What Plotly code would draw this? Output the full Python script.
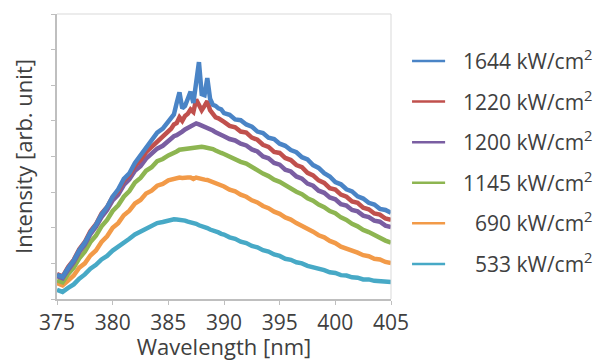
import plotly.graph_objects as go

wavelength = [375, 375.5, 376, 376.5, 377, 377.5, 378, 378.5, 379, 379.5, 380, 380.5, 381, 381.5, 382, 382.5, 383, 383.5, 384, 384.5, 385,
              385.25, 385.5, 385.75, 386, 386.25, 386.5, 386.75, 387, 387.25, 387.5, 387.75, 388, 388.25, 388.5, 388.75, 389, 389.25, 389.5, 389.75, 390,
              390.5, 391, 391.5, 392, 392.5, 393, 393.5, 394, 394.5, 395, 395.5, 396, 396.5, 397, 397.5, 398, 398.5, 399, 399.5, 400,
              400.5, 401, 401.5, 402, 402.5, 403, 403.5, 404, 404.5, 405]

i_1644 = [0.68, 0.62, 0.87, 1.08, 1.37, 1.58, 1.87, 2.08, 2.37, 2.58, 2.87, 3.08, 3.37, 3.53, 3.82, 4.03, 4.27, 4.43, 4.67, 4.78, 4.97,
          5.05, 5.18, 5.5, 5.8, 5.35, 5.42, 5.62, 5.82, 5.5, 6.2, 6.65, 5.75, 5.72, 6.2, 5.62, 5.45, 5.42, 5.35, 5.32, 5.22,
          5.17, 5.04, 5.02, 4.9, 4.84, 4.7, 4.66, 4.53, 4.49, 4.36, 4.3, 4.18, 4.12, 3.98, 3.92, 3.76, 3.68, 3.53, 3.44, 3.28,
          3.22, 3.08, 3.02, 2.88, 2.82, 2.7, 2.65, 2.53, 2.5, 2.42]

i_1220 = [0.7, 0.63, 0.9, 1.1, 1.4, 1.6, 1.9, 2.1, 2.4, 2.58, 2.87, 3.03, 3.32, 3.48, 3.74, 3.9, 4.12, 4.26, 4.44, 4.56, 4.72,
          4.78, 4.9, 4.94, 5.1, 5.0, 5.14, 5.2, 5.32, 5.25, 5.6, 5.45, 5.3, 5.42, 5.55, 5.3, 5.17, 5.1, 5.07, 5.0, 4.97,
          4.86, 4.82, 4.7, 4.67, 4.53, 4.47, 4.33, 4.27, 4.13, 4.1, 3.96, 3.9, 3.76, 3.7, 3.54, 3.47, 3.33, 3.26, 3.11, 3.07,
          2.93, 2.87, 2.74, 2.7, 2.56, 2.52, 2.4, 2.37, 2.26, 2.22]

i_1200 = [0.64, 0.58, 0.82, 1.03, 1.32, 1.53, 1.82, 2.03, 2.3, 2.5, 2.77, 2.93, 3.2, 3.36, 3.6, 3.73, 3.94, 4.06, 4.22, 4.3, 4.44,
          4.5, 4.57, 4.6, 4.67, 4.7, 4.76, 4.8, 4.86, 4.88, 4.93, 4.9, 4.87, 4.84, 4.81, 4.76, 4.73, 4.68, 4.65, 4.6, 4.57,
          4.49, 4.45, 4.36, 4.31, 4.2, 4.14, 4.0, 3.95, 3.82, 3.77, 3.63, 3.58, 3.44, 3.38, 3.24, 3.18, 3.04, 2.98, 2.85, 2.8,
          2.66, 2.62, 2.5, 2.46, 2.34, 2.3, 2.2, 2.17, 2.06, 2.02]

i_1145 = [0.52, 0.47, 0.7, 0.88, 1.14, 1.33, 1.6, 1.78, 2.04, 2.22, 2.47, 2.63, 2.87, 3.03, 3.27, 3.4, 3.6, 3.7, 3.87, 3.93, 4.03,
          4.06, 4.11, 4.14, 4.19, 4.2, 4.23, 4.24, 4.26, 4.26, 4.28, 4.27, 4.27, 4.26, 4.25, 4.22, 4.21, 4.17, 4.15, 4.1, 4.07,
          3.99, 3.94, 3.85, 3.8, 3.7, 3.63, 3.52, 3.45, 3.35, 3.29, 3.19, 3.12, 3.01, 2.94, 2.83, 2.76, 2.65, 2.58, 2.47, 2.41,
          2.29, 2.22, 2.11, 2.04, 1.94, 1.88, 1.79, 1.73, 1.64, 1.58]

i_690 = [0.45, 0.38, 0.52, 0.66, 0.88, 1.0, 1.22, 1.36, 1.6, 1.76, 2.0, 2.13, 2.35, 2.48, 2.68, 2.78, 2.96, 3.04, 3.18, 3.23, 3.33,
         3.35, 3.38, 3.39, 3.41, 3.4, 3.42, 3.41, 3.41, 3.37, 3.41, 3.38, 3.38, 3.35, 3.34, 3.31, 3.29, 3.25, 3.23, 3.19, 3.16,
         3.07, 3.02, 2.93, 2.87, 2.77, 2.71, 2.61, 2.55, 2.45, 2.39, 2.29, 2.23, 2.13, 2.06, 1.96, 1.89, 1.79, 1.73, 1.63, 1.57,
         1.47, 1.42, 1.34, 1.3, 1.23, 1.2, 1.13, 1.11, 1.04, 1.01]

i_533 = [0.26, 0.2, 0.31, 0.41, 0.57, 0.69, 0.85, 0.96, 1.11, 1.21, 1.36, 1.46, 1.59, 1.69, 1.81, 1.89, 1.99, 2.04, 2.13, 2.16, 2.21,
         2.22, 2.24, 2.23, 2.23, 2.21, 2.2, 2.17, 2.16, 2.12, 2.11, 2.07, 2.05, 2.01, 1.99, 1.95, 1.93, 1.89, 1.87, 1.83, 1.81,
         1.73, 1.69, 1.61, 1.57, 1.49, 1.45, 1.37, 1.33, 1.25, 1.21, 1.13, 1.1, 1.03, 1.0, 0.93, 0.9, 0.84, 0.81, 0.75, 0.73,
         0.67, 0.66, 0.61, 0.6, 0.55, 0.55, 0.51, 0.51, 0.48, 0.48]

series_names = ["1644 kW/cm<sup>2</sup>", "1220 kW/cm<sup>2</sup>", "1200 kW/cm<sup>2</sup>",
                "1145 kW/cm<sup>2</sup>", "690 kW/cm<sup>2</sup>", "533 kW/cm<sup>2</sup>"]
series_values = [i_1644, i_1220, i_1200, i_1145, i_690, i_533]
series_colors = ["#4a84c6", "#c0504d", "#7a5ea2", "#8db551", "#f29a48", "#47a9c6"]

x_ticks = [375, 380, 385, 390, 395, 400, 405]
y_ticks = [0, 1, 2, 3, 4, 5, 6, 7, 8]

TEXT = "#404040"
AXIS = "#bfbfbf"
FS = 22

fig = go.Figure()
# draw lowest series first so the highest is on top
for name, vals, col in reversed(list(zip(series_names, series_values, series_colors))):
    fig.add_trace(go.Scatter(x=wavelength, y=vals, mode="lines", name=name,
                             showlegend=False, line=dict(color=col, width=4.5)))

# legend drawn at the right of the plot (paper coordinates)
for k, (name, col) in enumerate(zip(series_names, series_colors)):
    yk = 0.835 - k * 0.1424
    fig.add_shape(type="line", xref="paper", yref="paper", x0=1.063, x1=1.162, y0=yk, y1=yk,
                  line=dict(color=col, width=2.5))
    fig.add_annotation(xref="paper", yref="paper", x=1.612, y=yk + 0.005, xanchor="right", yanchor="middle",
                       text=name, showarrow=False, font=dict(size=21, color=TEXT))

# page body has an 8px margin: figure is 595x353 so the page shows it like the reference
fig.update_layout(
    width=595, height=353,
    margin=dict(l=49, r=212, t=6, b=62),
    paper_bgcolor="white", plot_bgcolor="white",
    font=dict(family="Open Sans, sans-serif", color=TEXT, size=FS),
    showlegend=False,
    xaxis=dict(range=[375, 405], tickvals=x_ticks, ticks="outside", ticklen=4,
               tickcolor=AXIS, showline=True, linecolor=AXIS, linewidth=1.5,
               showgrid=False, zeroline=False, automargin=False,
               tickfont=dict(size=21, color=TEXT),
               title=dict(text="Wavelength [nm]", font=dict(size=FS, color=TEXT), standoff=5)),
    yaxis=dict(range=[0, 8], tickvals=y_ticks, showticklabels=False, ticks="outside", ticklen=4,
               tickcolor=AXIS, showline=True, linecolor=AXIS, linewidth=1.5,
               showgrid=False, zeroline=False, automargin=False,
               title=dict(text="Intensity [arb. unit]", font=dict(size=FS, color=TEXT), standoff=18)),
)
# light frame top/right
fig.add_shape(type="line", xref="paper", yref="paper", x0=0, x1=1, y0=1, y1=1,
              line=dict(color="#d9d9d9", width=1))
fig.add_shape(type="line", xref="paper", yref="paper", x0=1, x1=1, y0=0, y1=1,
              line=dict(color="#d9d9d9", width=1))

fig.write_html("out.html")
